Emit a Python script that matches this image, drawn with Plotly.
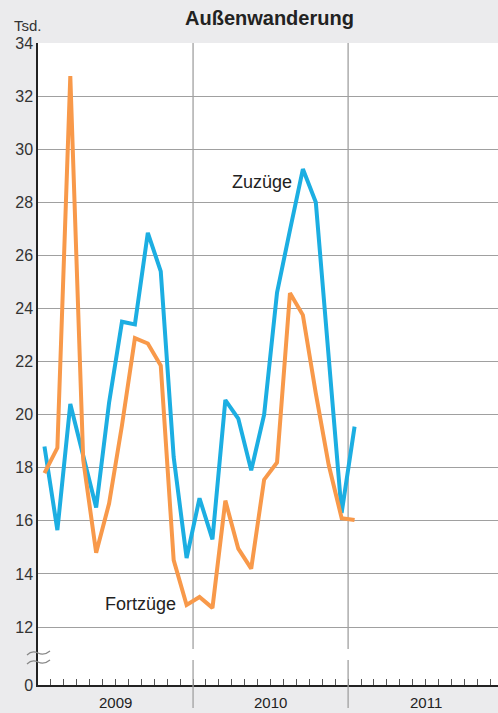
import plotly.graph_objects as go

# Months Jan 2009 .. Jan 2011 (index 0 = Jan 2009), plotted at month centres
months = list(range(25))
zuzuege = [18.8, 15.65, 20.4, 18.4, 16.5, 20.45, 23.5, 23.4, 26.85, 25.4, 18.4, 14.6,
           16.85, 15.3, 20.55, 19.85, 17.9, 20.0, 24.6, 26.95, 29.25, 28.0, 22.3, 16.3, 19.55]
fortzuege = [17.8, 18.75, 32.75, 18.3, 14.8, 16.65, 19.6, 22.88, 22.68, 21.85, 14.52, 12.83,
             13.13, 12.72, 16.76, 14.95, 14.2, 17.55, 18.2, 24.58, 23.75, 20.8, 18.1, 16.1, 16.03]
years = ["2009", "2010", "2011"]
y_ticks = [12, 14, 16, 18, 20, 22, 24, 26, 28, 30, 32, 34]

FONT = "Liberation Sans, Arial, Helvetica, sans-serif"
BLUE = "#1caee2"
ORANGE = "#f8994a"
GRID = "#a0a0a0"
BG = "#ebebed"

Y0 = 9.815  # axis position standing for 0 (axis is broken)
xc = [m + 0.5 for m in months]

fig = go.Figure()
fig.add_trace(go.Scatter(x=xc, y=zuzuege, mode="lines", line=dict(color=BLUE, width=4),
                         name="Zuzüge", hoverinfo="skip"))
fig.add_trace(go.Scatter(x=xc, y=fortzuege, mode="lines", line=dict(color=ORANGE, width=4),
                         name="Fortzüge", hoverinfo="skip"))

shapes = []
# year divider lines with gap at the break
for yb in (12, 24):
    shapes.append(dict(type="line", xref="x", yref="paper", x0=yb, x1=yb,
                       y0=1, y1=(685 - 649) / 642, line=dict(color=GRID, width=1.3), layer="below"))
    shapes.append(dict(type="line", xref="x", yref="paper", x0=yb, x1=yb,
                       y0=(685 - 660) / 642, y1=(685 - 708) / 642, line=dict(color=GRID, width=1.3)))
# break marks
def px(xp, yp):
    return f"{(xp - 38) / 460:.5f},{(685 - yp) / 642:.5f}"
for yy in (653, 662):
    path = (f"M {px(27, yy + 2)} Q {px(32, yy - 3)} {px(38, yy)} "
            f"Q {px(44, yy + 3)} {px(50, yy - 2)}")
    shapes.append(dict(type="path", xref="paper", yref="paper", path=path,
                       line=dict(color="#888888", width=1.2)))

annotations = [
    dict(text="<b>Außenwanderung</b>", xref="paper", yref="paper", x=(269.5 - 38) / 460, y=(685 - 18) / 642,
         showarrow=False, font=dict(size=20, color="#222222", family=FONT), xanchor="center", yanchor="middle"),
    dict(text="Tsd.", xref="paper", yref="paper", x=(12 - 38) / 460, y=(685 - 25) / 642,
         showarrow=False, font=dict(size=15, color="#333333", family=FONT), xanchor="left", yanchor="middle"),
    dict(text="Zuzüge", xref="x", yref="y", x=17.34, y=28.76, showarrow=False,
         font=dict(size=18, color="#222222", family=FONT)),
    dict(text="Fortzüge", xref="x", yref="y", x=7.97, y=12.87, showarrow=False,
         font=dict(size=18, color="#222222", family=FONT)),
]
for i, yr in enumerate(years):
    annotations.append(dict(text=yr, xref="x", yref="paper", x=12 * i + 6, y=(685 - 702) / 642,
                            showarrow=False, font=dict(size=15, color="#222222", family=FONT),
                            yanchor="middle"))

fig.update_layout(
    width=498, height=713,
    margin=dict(l=38, r=0, t=43, b=28),
    paper_bgcolor=BG, plot_bgcolor="white",
    showlegend=False,
    shapes=shapes, annotations=annotations,
    font=dict(family=FONT),
    xaxis=dict(range=[0, 35.6], showgrid=False, zeroline=False,
               showline=True, linecolor="#222222", linewidth=1.5,
               tickvals=list(range(1, 36)), ticks="inside", ticklen=6, tickcolor="#555555",
               tickwidth=1, showticklabels=False, fixedrange=True),
    yaxis=dict(range=[Y0, 34], tickvals=[Y0] + y_ticks, ticktext=["0"] + [str(v) for v in y_ticks],
               showgrid=True, gridcolor=GRID, gridwidth=1.2, zeroline=False,
               showline=True, linecolor="#222222", linewidth=1.5, ticks="",
               tickfont=dict(size=16, color="#333333", family=FONT), fixedrange=True),
)

fig.write_html("out.html", config={"displayModeBar": False},
               post_script="document.body.style.margin='0';document.body.style.padding='0';"
                           "document.body.style.overflow='hidden';")
